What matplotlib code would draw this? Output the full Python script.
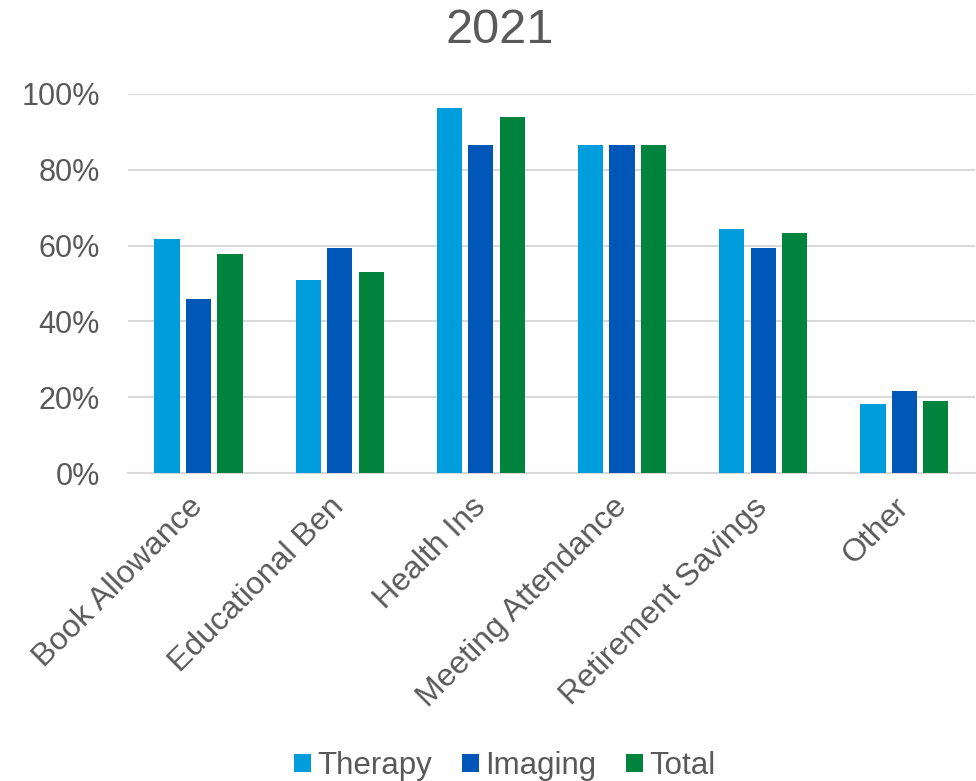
import numpy as np
from matplotlib import pyplot as plt
from matplotlib.ticker import PercentFormatter

categories = ['Book Allowance', 'Educational Ben', 'Health Ins',
              'Meeting Attendance', 'Retirement Savings', 'Other']
therapy = [0.617, 0.508, 0.963, 0.864, 0.644, 0.182]
imaging = [0.459, 0.594, 0.864, 0.864, 0.594, 0.217]
total = [0.578, 0.529, 0.938, 0.864, 0.633, 0.190]
series_names = ['Therapy', 'Imaging', 'Total']
colors = ['#009DDC', '#0057B8', '#00843D']

plt.rcParams['font.family'] = ['Liberation Sans', 'DejaVu Sans']
text_color = '#595959'

fig = plt.figure(figsize=(9.76, 7.81), dpi=100)
ax = fig.add_axes([0.131, 0.394, 0.868, 0.486])

x = np.arange(len(categories))
step = 0.223
width = 0.178
for i, (vals, name) in enumerate(zip([therapy, imaging, total], series_names)):
    ax.bar(x + (i - 1) * step, vals, width, color=colors[i], label=name, zorder=3)

ax.set_xlim(-0.5, len(categories) - 0.5)
ax.set_ylim(0, 1.0)
ax.set_yticks(np.arange(0, 1.01, 0.2))
ax.yaxis.set_major_formatter(PercentFormatter(1.0, decimals=0))
ax.grid(axis='y', color='#D9D9D9', linewidth=1.5, zorder=0)
for s in ['top', 'right', 'left']:
    ax.spines[s].set_visible(False)
ax.spines['bottom'].set_color('#D9D9D9')
ax.spines['bottom'].set_linewidth(1.5)
ax.tick_params(axis='y', length=0, colors=text_color, labelsize=22, pad=20)
ax.set_xticks(x)
ax.set_xticklabels(categories, rotation=45, ha='right', va='center',
                   rotation_mode='anchor')
ax.tick_params(axis='x', length=0, colors=text_color, labelsize=23, pad=21)

fig.suptitle('2021', fontsize=35, color=text_color, x=0.512, y=0.99, va='top')

fig.legend(loc='lower center', ncol=3, frameon=False, fontsize=22.5,
           labelcolor=text_color, bbox_to_anchor=(0.517, -0.036),
           handlelength=0.55, handleheight=0.55, handletextpad=0.2, columnspacing=0.95)

fig.savefig('out.png', dpi=100)
